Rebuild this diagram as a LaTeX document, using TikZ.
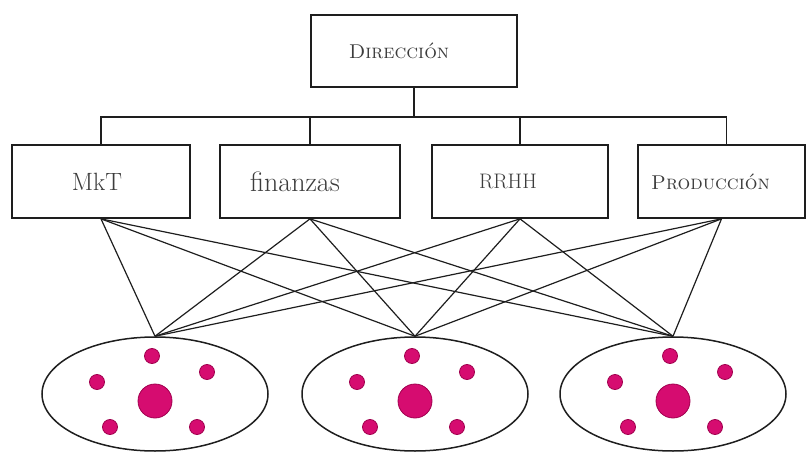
\documentclass[tikz,border=0pt]{standalone}
\usepackage{tikz}
\usetikzlibrary{shapes.geometric, positioning, calc}
\usepackage{xcolor}
\definecolor{orgdot}{RGB}{214,12,112}
\definecolor{orgdotedge}{RGB}{160,0,78}
\definecolor{orgline}{RGB}{30,30,30}
\definecolor{orgtext}{RGB}{60,60,60}

\begin{document}
\begin{tikzpicture}[
    x=1pt, y=-1pt,
    every node/.style={font=\fontsize{21}{24}\selectfont, text=orgtext},
    deptbox/.style={rectangle, draw=orgline, line width=1.7pt, fill=white,
        minimum width=178pt, minimum height=73pt, align=center, inner sep=0pt},
    group/.style={ellipse, draw=orgline, line width=1.5pt,
        minimum width=226pt, minimum height=114pt, inner sep=0pt},
    bigdot/.style={circle, fill=orgdot, draw=orgdotedge, line width=0.8pt,
        minimum size=34pt, inner sep=0pt},
    smalldot/.style={circle, fill=orgdot, draw=orgdotedge, line width=0.8pt,
        minimum size=15pt, inner sep=0pt},
    link/.style={draw=orgline, line width=1.2pt},
    tree/.style={draw=orgline, line width=1.6pt},
]
\useasboundingbox (0,0) rectangle (806,452);

% === TOP ===
\node[deptbox, minimum width=206pt, minimum height=72pt] (dir) at (414,51)
    {\hspace*{-30pt}\fontsize{20}{24}\selectfont\textsc{Dirección}};

% === DEPARTMENTS ===
\node[deptbox] (mkt) at (101,181.5) {\hspace*{-8pt}\fontsize{25}{28}\selectfont MkT};
\node[deptbox, minimum width=180pt] (fin) at (310,181.5) {\hspace*{-30pt}\fontsize{28}{30}\selectfont finanzas};
\node[deptbox, minimum width=176pt] (rrhh) at (520,181.5) {\hspace*{-24pt}RRHH};
\node[deptbox, minimum width=167pt] (prod) at (721.5,181.5)
    {\hspace*{-22pt}\fontsize{20}{24}\selectfont\textsc{Producción}};

% Bus between the two levels
\coordinate (bus) at (414,117);
\draw[tree] (dir.south) -- (bus);
\draw[tree] (mkt.north) |- (bus) -| ([xshift=5pt]prod.north);
\draw[tree] (fin.north) -- (fin.north |- bus);
\draw[tree] (rrhh.north) -- (rrhh.north |- bus);

% === GROUPS ===
\node[group] (grpA) at (155,394) {};
\node[group] (grpB) at (415,394) {};
\node[group] (grpC) at (673,394) {};

% Members of each group
\foreach \g in {grpA,grpB,grpC} {
    \node[bigdot] (\g-core) at ($(\g.center)+(0,7)$) {};
    \node[smalldot] (\g-n) at ($(\g.center)+(-3,-38)$) {};
    \node[smalldot] (\g-ne) at ($(\g.center)+(52,-22)$) {};
    \node[smalldot] (\g-w) at ($(\g.center)+(-58,-12)$) {};
    \node[smalldot] (\g-sw) at ($(\g.center)+(-45,33)$) {};
    \node[smalldot] (\g-se) at ($(\g.center)+(42,33)$) {};
}

% === LINKS ===
% every department reaches every group
\foreach \d in {mkt,fin,rrhh,prod} {
    \foreach \g in {grpA,grpB,grpC} {
        \draw[link] (\d.south) -- (\g.north);
    }
}

\end{tikzpicture}
\end{document}
